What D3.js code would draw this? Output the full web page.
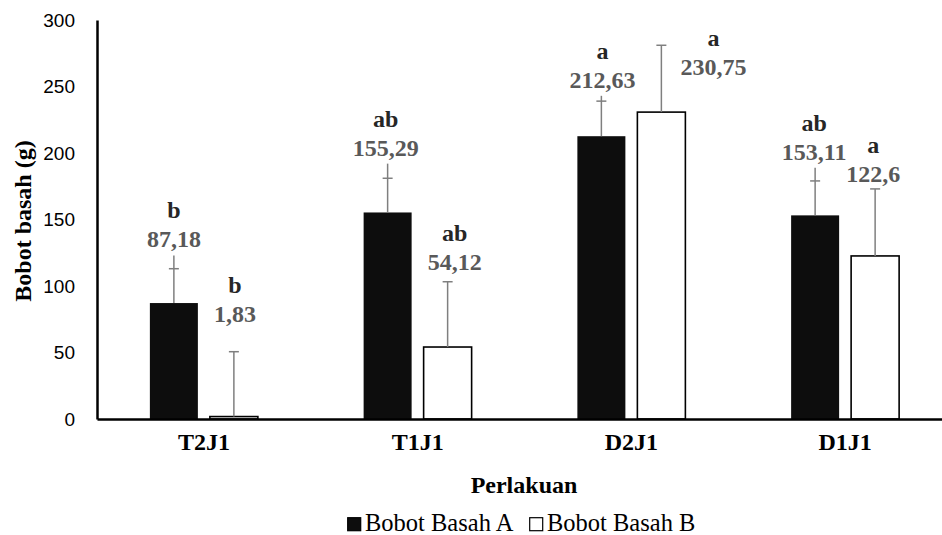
<!DOCTYPE html>
<html>
<head>
<meta charset="utf-8">
<script src="https://cdn.jsdelivr.net/npm/d3@7"></script>
<style>
  html, body { margin: 0; padding: 0; background: #fff; }
  svg { display: block; }
</style>
</head>
<body>
<svg id="chart" width="942" height="535"></svg>
<script>
// data
const categories = ["T2J1", "T1J1", "D2J1", "D1J1"];
const seriesNames = ["Bobot Basah A", "Bobot Basah B"];
const valuesA = [87.18, 155.29, 212.63, 153.11];
const valuesB = [1.83, 54.12, 230.75, 122.6];
const labelsA = ["87,18", "155,29", "212,63", "153,11"];
const labelsB = ["1,83", "54,12", "230,75", "122,6"];
const lettersA = ["b", "ab", "a", "ab"];
const lettersB = ["b", "ab", "a", "a"];
// error bars: cap position and top of the whisker line
const errCapA = [113, 181, 239, 179];
const errTopA = [123, 192, 243, 189];
const errCapB = [50.6, 103.2, 281, 173];
const errTopB = [50.6, 103.2, 281, 173];
const yTicks = [0, 50, 100, 150, 200, 250, 300];

// label nudges (px) relative to bar center / whisker top
const nudgeA = [[0, -8], [-2, -8], [1, -8], [-1, -8]];
const nudgeB = [[1, -30], [7, -12], [52, 30], [-2, -7]];

const svg = d3.select("#chart");
const margin = { left: 97, top: 20, bottom: 419 };

const x = d3.scaleBand().domain(categories).range([97, 952]).padding(0);
const y = d3.scaleLinear().domain([0, 300]).range([419, 20]);

const barW = 48, gap = 12;
const serif = "'Liberation Serif', 'Times New Roman', serif";

// build rows
const rows = [];
categories.forEach((c, i) => {
  rows.push({ cat: c, s: 0, v: valuesA[i], lab: labelsA[i], let: lettersA[i], cap: errCapA[i], top: errTopA[i], nd: nudgeA[i] });
  rows.push({ cat: c, s: 1, v: valuesB[i], lab: labelsB[i], let: lettersB[i], cap: errCapB[i], top: errTopB[i], nd: nudgeB[i] });
});
const cx = (d) => x(d.cat) + x.bandwidth() / 2 + (d.s === 0 ? -(gap / 2 + barW / 2) : gap / 2 + barW / 2);

// bars
svg.append("g").selectAll("rect")
  .data(rows).enter().append("rect")
  .attr("x", (d) => cx(d) - barW / 2)
  .attr("y", (d) => y(d.v))
  .attr("width", barW)
  .attr("height", (d) => y(0) - y(d.v))
  .attr("fill", (d) => (d.s === 0 ? "#0d0d0d" : "#fff"))
  .attr("stroke", "#000")
  .attr("stroke-width", (d) => (d.s === 0 ? 0 : 1.6));

// error bars
const eg = svg.append("g").attr("stroke", "#7f7f7f").attr("stroke-width", 1.5);
eg.selectAll("line.whisker").data(rows).enter().append("line")
  .attr("class", "whisker")
  .attr("x1", cx).attr("x2", cx)
  .attr("y1", (d) => y(d.v)).attr("y2", (d) => y(d.top));
eg.selectAll("line.cap").data(rows).enter().append("line")
  .attr("class", "cap")
  .attr("x1", (d) => cx(d) - 5).attr("x2", (d) => cx(d) + 5)
  .attr("y1", (d) => y(d.cap)).attr("y2", (d) => y(d.cap));

// data labels
const lg = svg.append("g")
  .attr("font-family", serif).attr("font-weight", "bold")
  .attr("font-size", 24).attr("text-anchor", "middle");
lg.selectAll("text.val").data(rows).enter().append("text")
  .attr("class", "val")
  .attr("x", (d) => cx(d) + d.nd[0])
  .attr("y", (d) => y(d.top) + d.nd[1])
  .attr("fill", "#595959")
  .text((d) => d.lab);
lg.selectAll("text.let").data(rows).enter().append("text")
  .attr("class", "let")
  .attr("x", (d) => cx(d) + d.nd[0])
  .attr("y", (d) => y(d.top) + d.nd[1] - 29)
  .attr("fill", "#262626")
  .text((d) => d.let);

// y axis
const yAxis = svg.append("g")
  .attr("transform", `translate(${margin.left},0)`)
  .call(d3.axisLeft(y).tickValues(yTicks).tickSize(0).tickPadding(22));
yAxis.select(".domain").attr("stroke", "#000").attr("stroke-width", 2.5);
yAxis.selectAll("text")
  .attr("font-family", "'Liberation Sans', Arial, sans-serif")
  .attr("font-size", 19).attr("fill", "#000");

// x axis
const xAxis = svg.append("g")
  .attr("transform", `translate(0,${y(0)})`)
  .call(d3.axisBottom(x).tickSize(0).tickPadding(14));
xAxis.select(".domain").attr("stroke", "#000").attr("stroke-width", 2.5);
xAxis.selectAll("text")
  .attr("font-family", serif).attr("font-weight", "bold")
  .attr("font-size", 24).attr("fill", "#000");

// axis titles
svg.append("text")
  .attr("transform", "translate(31,221) rotate(-90)")
  .attr("text-anchor", "middle")
  .attr("font-family", serif).attr("font-weight", "bold").attr("font-size", 24)
  .text("Bobot basah (g)");
svg.append("text")
  .attr("x", 524).attr("y", 493)
  .attr("text-anchor", "middle")
  .attr("font-family", serif).attr("font-weight", "bold").attr("font-size", 24)
  .text("Perlakuan");

// legend
const legX = [347, 529];
const leg = svg.append("g").selectAll("g").data(seriesNames).enter().append("g")
  .attr("transform", (d, i) => `translate(${legX[i]},517)`);
leg.append("rect")
  .attr("x", 0.7).attr("y", 0.7).attr("width", 13).attr("height", 13)
  .attr("fill", (d, i) => (i === 0 ? "#0d0d0d" : "#fff"))
  .attr("stroke", "#000").attr("stroke-width", 1.2);
leg.append("text")
  .attr("x", 18).attr("y", 14)
  .attr("font-family", serif).attr("font-size", 24.5)
  .text((d) => d);
</script>
</body>
</html>
